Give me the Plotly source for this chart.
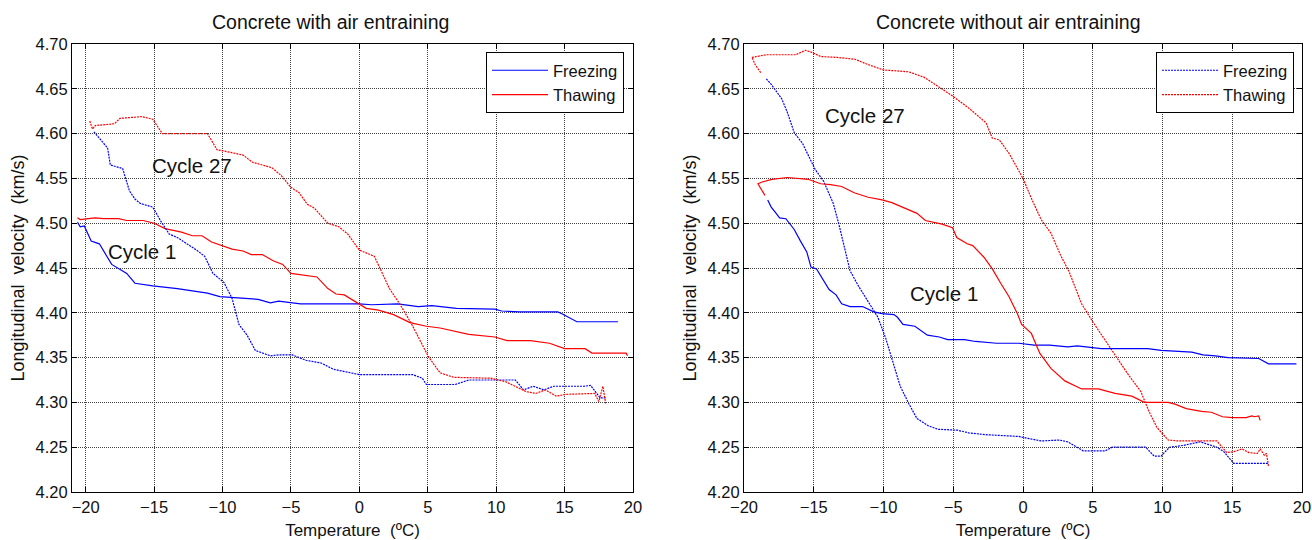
import plotly.graph_objects as go

# ---- Concrete with air entraining ----
a_c1_freeze_t = [-20.6, -20.4, -20.1, -19.6, -19.0, -18.5, -18.1, -17.0, -16.4, -15.1, -13.3, -11.1, -10.2, -7.4, -6.5, -5.9, -4.3, 0.0, 0.9, 2.8, 4.3, 5.3, 7.1, 9.9, 10.4, 11.7, 14.5, 14.8, 15.9, 18.9]
a_c1_freeze_v = [4.501, 4.496, 4.497, 4.480, 4.477, 4.465, 4.454, 4.444, 4.433, 4.430, 4.427, 4.422, 4.418, 4.415, 4.411, 4.413, 4.410, 4.410, 4.409, 4.410, 4.407, 4.408, 4.405, 4.404, 4.402, 4.401, 4.401, 4.399, 4.390, 4.390]

a_c1_thaw_t = [-20.6, -20.4, -19.8, -19.3, -18.7, -17.6, -17.0, -15.8, -15.0, -14.2, -13.0, -12.2, -11.5, -10.8, -9.3, -8.5, -7.9, -7.1, -6.3, -5.6, -5.0, -4.2, -3.1, -2.3, -1.7, -1.1, 0.0, 0.5, 1.4, 2.5, 3.7, 4.9, 5.9, 7.1, 8.0, 9.9, 10.8, 12.5, 13.9, 15.0, 16.5, 17.0, 19.5, 19.6]
a_c1_thaw_v = [4.506, 4.504, 4.505, 4.506, 4.505, 4.505, 4.503, 4.503, 4.500, 4.494, 4.490, 4.486, 4.486, 4.479, 4.471, 4.469, 4.465, 4.465, 4.458, 4.454, 4.444, 4.442, 4.440, 4.427, 4.421, 4.420, 4.410, 4.405, 4.403, 4.398, 4.389, 4.385, 4.383, 4.379, 4.376, 4.373, 4.369, 4.369, 4.366, 4.360, 4.360, 4.355, 4.355, 4.352]

a_c27_freeze_t = [-19.4, -19.0, -18.7, -18.4, -18.2, -17.5, -17.3, -16.8, -16.6, -16.4, -16.0, -15.1, -14.5, -13.9, -13.3, -12.7, -11.9, -11.3, -10.7, -9.9, -9.3, -8.8, -8.2, -7.6, -6.5, -5.9, -4.9, -3.9, -2.8, -1.9, -0.6, 0.0, 3.9, 4.6, 4.9, 6.8, 7.0, 8.0, 11.4, 12.0, 12.7, 13.5, 14.2, 16.4, 16.9, 17.6, 18.0]
a_c27_freeze_v = [4.602, 4.595, 4.589, 4.584, 4.565, 4.562, 4.561, 4.536, 4.531, 4.527, 4.522, 4.518, 4.502, 4.488, 4.484, 4.478, 4.470, 4.463, 4.444, 4.434, 4.416, 4.387, 4.375, 4.358, 4.352, 4.353, 4.353, 4.347, 4.344, 4.337, 4.333, 4.331, 4.331, 4.327, 4.320, 4.320, 4.320, 4.325, 4.325, 4.314, 4.318, 4.314, 4.318, 4.318, 4.319, 4.305, 4.305]

a_c27_thaw_t = [-19.7, -19.5, -19.3, -18.7, -17.9, -17.5, -16.7, -15.9, -15.1, -14.4, -11.1, -10.4, -9.4, -8.5, -7.8, -6.4, -5.7, -5.0, -4.4, -3.8, -3.3, -2.3, -1.5, -0.85, 0.0, 1.1, 2.2, 2.95, 3.8, 5.05, 5.9, 6.9, 9.6, 10.7, 12.2, 12.9, 13.6, 14.4, 15.1, 16.8, 17.2, 17.5, 17.8, 18.0]
a_c27_thaw_v = [4.614, 4.605, 4.609, 4.610, 4.611, 4.617, 4.618, 4.619, 4.616, 4.600, 4.600, 4.582, 4.579, 4.576, 4.568, 4.562, 4.553, 4.540, 4.534, 4.521, 4.517, 4.500, 4.496, 4.488, 4.470, 4.463, 4.427, 4.410, 4.388, 4.351, 4.333, 4.328, 4.327, 4.323, 4.312, 4.310, 4.314, 4.307, 4.309, 4.310, 4.310, 4.301, 4.318, 4.299]

# ---- Concrete without air entraining ----
b_c1_freeze_t = [-18.3, -18.05, -17.75, -17.45, -17.0, -16.4, -15.95, -15.5, -15.2, -14.8, -13.9, -13.4, -13.0, -12.4, -11.5, -10.7, -10.1, -9.25, -9.0, -8.6, -7.75, -6.85, -6.0, -5.4, -4.2, -3.4, -1.9, -0.3, 0.8, 1.9, 3.2, 3.9, 5.6, 8.95, 9.9, 10.9, 12.1, 12.9, 13.8, 14.7, 16.9, 17.6, 19.6]
b_c1_freeze_v = [4.526, 4.518, 4.512, 4.506, 4.505, 4.493, 4.480, 4.468, 4.451, 4.449, 4.426, 4.420, 4.410, 4.407, 4.407, 4.401, 4.399, 4.398, 4.395, 4.387, 4.385, 4.375, 4.373, 4.370, 4.370, 4.368, 4.366, 4.366, 4.364, 4.364, 4.362, 4.363, 4.360, 4.360, 4.358, 4.357, 4.356, 4.353, 4.352, 4.350, 4.349, 4.343, 4.343]

b_c1_thaw_t = [-18.5, -18.8, -19.0, -18.7, -18.0, -16.9, -16.2, -15.4, -14.5, -13.8, -13.0, -12.1, -11.1, -10.1, -9.4, -8.3, -7.6, -7.0, -5.8, -5.05, -4.75, -4.0, -3.6, -2.8, -2.2, -1.6, -1.0, -0.4, -0.1, 0.6, 1.2, 2.0, 3.0, 4.2, 5.4, 6.6, 7.8, 8.7, 10.4, 10.9, 11.7, 12.8, 13.5, 14.3, 15.0, 16.0, 16.4, 16.6, 16.9, 17.0]
b_c1_thaw_v = [4.531, 4.538, 4.544, 4.546, 4.549, 4.551, 4.550, 4.549, 4.544, 4.543, 4.541, 4.534, 4.529, 4.526, 4.523, 4.516, 4.511, 4.503, 4.499, 4.495, 4.484, 4.477, 4.475, 4.462, 4.449, 4.433, 4.418, 4.399, 4.387, 4.377, 4.355, 4.338, 4.324, 4.315, 4.315, 4.310, 4.307, 4.300, 4.300, 4.298, 4.293, 4.290, 4.289, 4.284, 4.283, 4.283, 4.285, 4.284, 4.285, 4.280]

b_c27_freeze_t = [-18.4, -18.05, -17.3, -16.9, -16.4, -15.8, -15.4, -14.9, -14.3, -13.6, -13.2, -12.8, -12.4, -11.8, -11.0, -10.4, -9.85, -9.25, -8.8, -8.2, -7.6, -6.8, -6.1, -4.7, -3.9, -2.7, -0.3, 0.3, 1.3, 2.6, 3.2, 4.3, 5.9, 6.4, 8.8, 9.4, 9.9, 10.5, 11.5, 12.7, 13.9, 14.4, 15.1, 17.6]
b_c27_freeze_v = [4.661, 4.655, 4.639, 4.624, 4.601, 4.589, 4.576, 4.560, 4.547, 4.522, 4.499, 4.474, 4.447, 4.430, 4.410, 4.395, 4.372, 4.341, 4.318, 4.299, 4.282, 4.274, 4.270, 4.269, 4.266, 4.264, 4.262, 4.260, 4.257, 4.258, 4.256, 4.246, 4.246, 4.250, 4.250, 4.240, 4.240, 4.250, 4.252, 4.256, 4.250, 4.245, 4.232, 4.232]

b_c27_thaw_t = [-18.8, -19.2, -19.4, -19.45, -18.4, -17.1, -16.3, -15.6, -15.2, -14.5, -13.3, -12.05, -11.1, -10.0, -8.2, -7.1, -6.0, -5.05, -3.85, -2.65, -2.2, -1.7, -1.0, 0.0, 0.65, 1.3, 2.0, 2.7, 3.3, 4.2, 5.0, 6.3, 7.5, 8.45, 9.0, 9.6, 10.4, 11.1, 13.9, 14.6, 15.1, 15.7, 16.2, 16.8, 17.0, 17.3, 17.45, 17.6]
b_c27_thaw_v = [4.668, 4.677, 4.684, 4.685, 4.688, 4.688, 4.688, 4.693, 4.691, 4.686, 4.685, 4.683, 4.677, 4.671, 4.669, 4.663, 4.652, 4.642, 4.628, 4.612, 4.595, 4.593, 4.578, 4.550, 4.526, 4.504, 4.489, 4.464, 4.446, 4.410, 4.390, 4.360, 4.332, 4.312, 4.291, 4.272, 4.258, 4.257, 4.257, 4.244, 4.245, 4.248, 4.244, 4.243, 4.248, 4.241, 4.243, 4.229]

titles = ["Concrete with air entraining", "Concrete without air entraining"]
x_title = "Temperature  (ºC)"
y_title = "Longitudinal  velocity  (km/s)"

BLUE = "#0000ff"
RED = "#ff0000"
FONT = "Liberation Sans, Arial, sans-serif"
SOLID = dict(width=1.2)
DASHED = dict(width=1.2, dash="2px,1px")

fig = go.Figure()


def add(t, v, color, style, name, xa, ya, legend, show):
    fig.add_trace(go.Scatter(
        x=t, y=v, mode="lines", name=name,
        line=dict(color=color, **style),
        xaxis=xa, yaxis=ya, legend=legend, showlegend=show,
    ))


# left panel: legend shows the cycle 1 (solid) curves
add(a_c1_freeze_t, a_c1_freeze_v, BLUE, SOLID, "Freezing", "x", "y", "legend", True)
add(a_c1_thaw_t, a_c1_thaw_v, RED, SOLID, "Thawing", "x", "y", "legend", True)
add(a_c27_freeze_t, a_c27_freeze_v, BLUE, DASHED, "Freezing", "x", "y", "legend", False)
add(a_c27_thaw_t, a_c27_thaw_v, RED, DASHED, "Thawing", "x", "y", "legend", False)

# right panel: legend shows the cycle 27 (dashed) curves
add(b_c27_freeze_t, b_c27_freeze_v, BLUE, DASHED, "Freezing", "x2", "y2", "legend2", True)
add(b_c27_thaw_t, b_c27_thaw_v, RED, DASHED, "Thawing", "x2", "y2", "legend2", True)
add(b_c1_freeze_t, b_c1_freeze_v, BLUE, SOLID, "Freezing", "x2", "y2", "legend2", False)
add(b_c1_thaw_t, b_c1_thaw_v, RED, SOLID, "Thawing", "x2", "y2", "legend2", False)

W, H = 1312, 540
ydom = [(H - 492) / H, (H - 44) / H]

axis_common = dict(
    automargin=False,
    showline=True, linecolor="black", linewidth=1, mirror="ticks",
    ticks="inside", ticklen=5, tickcolor="black",
    showgrid=True, gridcolor="rgba(30,30,30,0.85)", gridwidth=1, griddash="1px,1px",
    zeroline=False, tickfont=dict(size=16.5, color="#111"),
)

xcommon = dict(axis_common, dtick=5, tick0=-20, title_text=x_title, title_standoff=10,
               title_font=dict(size=17, color="#111"))
ycommon = dict(axis_common, range=[4.2, 4.7], dtick=0.05, tick0=4.2, tickformat=".2f",
               title_text=y_title, title_standoff=6, title_font=dict(size=18, color="#111"))

legend_common = dict(
    bgcolor="white", bordercolor="black", borderwidth=1,
    font=dict(size=16.5, color="#111"), xanchor="right", yanchor="top",
    tracegroupgap=0, itemwidth=56,
)

fig.update_layout(
    width=W, height=H,
    margin=dict(l=0, r=0, t=0, b=0),
    paper_bgcolor="white", plot_bgcolor="white",
    font=dict(family=FONT, color="#111"),
    xaxis=dict(xcommon, domain=[72 / W, 633 / W], range=[-21, 20], anchor="y"),
    yaxis=dict(ycommon, domain=ydom, anchor="x"),
    xaxis2=dict(xcommon, domain=[744 / W, 1302 / W], range=[-20, 20], anchor="y2"),
    yaxis2=dict(ycommon, domain=ydom, anchor="x2"),
    legend=dict(legend_common, x=624 / W, y=(H - 52) / H),
    legend2=dict(legend_common, x=1294 / W, y=(H - 52) / H),
    annotations=[
        dict(text=titles[0], x=331 / W, y=(H - 22) / H, xref="paper", yref="paper",
             showarrow=False, font=dict(size=19.5, color="#111"), xanchor="center", yanchor="middle"),
        dict(text=titles[1], x=1008 / W, y=(H - 22) / H, xref="paper", yref="paper",
             showarrow=False, font=dict(size=19.5, color="#111"), xanchor="center", yanchor="middle"),
        dict(text="Cycle 27", x=-12.2, y=4.564, xref="x", yref="y", showarrow=False,
             font=dict(size=20.5, color="#111")),
        dict(text="Cycle 1", x=-15.9, y=4.468, xref="x", yref="y", showarrow=False,
             font=dict(size=20.5, color="#111")),
        dict(text="Cycle 27", x=-11.3, y=4.620, xref="x2", yref="y2", showarrow=False,
             font=dict(size=20.5, color="#111")),
        dict(text="Cycle 1", x=-5.66, y=4.421, xref="x2", yref="y2", showarrow=False,
             font=dict(size=20.5, color="#111")),
    ],
)

fig.write_html("out.html")
